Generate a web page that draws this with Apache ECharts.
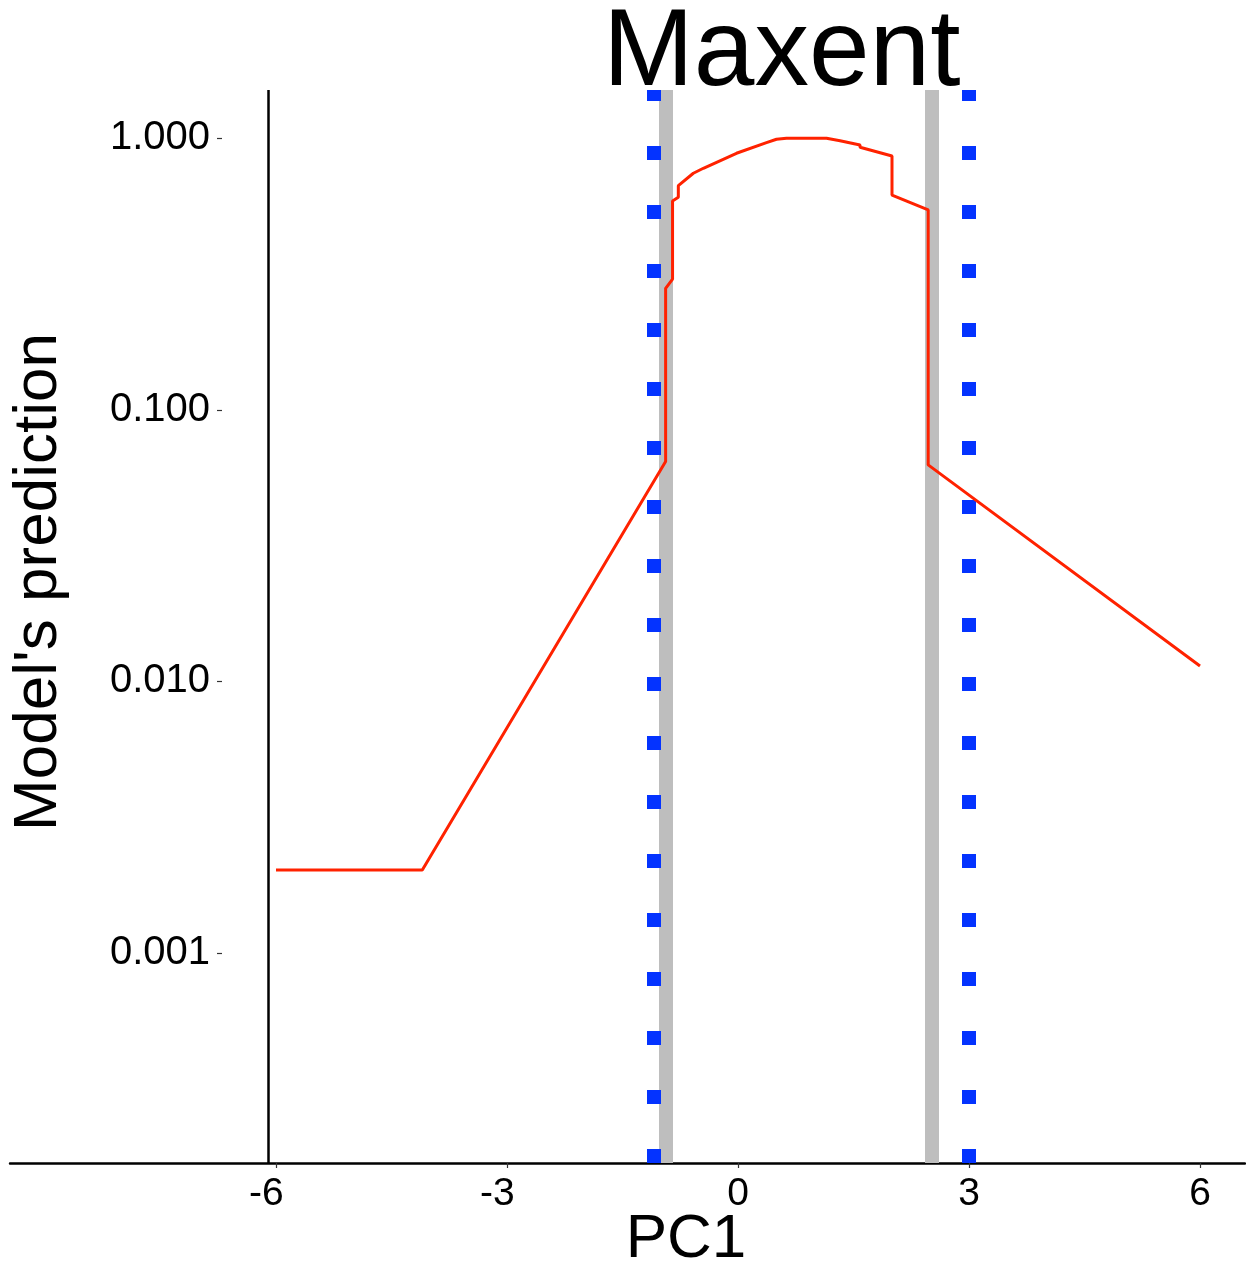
<!DOCTYPE html>
<html>
<head>
<meta charset="utf-8">
<script src="https://cdn.jsdelivr.net/npm/echarts@6/dist/echarts.min.js"></script>
<style>
  html, body { margin: 0; padding: 0; background: #fff; }
  #chart { width: 1246px; height: 1268px; }
</style>
</head>
<body>
<div id="chart"></div>
<script>
// ---- data ----
const pc1 = [-6, -4.1, -0.94, -0.94, -0.85, -0.85, -0.775, -0.775, -0.58, -0.45, -0.02, 0.37, 0.50, 0.63, 1.15, 1.325, 1.585, 1.585, 2.0, 2.0, 2.47, 2.47, 6];
const prediction = [0.00202, 0.00202, 0.0645, 0.2803, 0.3032, 0.5876, 0.6064, 0.6689, 0.7433, 0.7755, 0.8806, 0.9634, 0.9916, 1.0, 1.0, 0.9799, 0.9448, 0.9267, 0.8606, 0.6182, 0.5445, 0.0627, 0.0114];
const greyLines = [-0.94, 2.51];
const blueLines = [-1.09, 3.0];
const yAxisLineAt = [-6.1];
const xTicks = [-6, -3, 0, 3, 6];
const yTicks = [0.001, 0.01, 0.1, 1];
const titleText = 'Maxent';
const xName = 'PC1';
const yName = "Model's prediction";

const FONT = 'Liberation Sans, Arial, Helvetica, sans-serif';
const chart = echarts.init(document.getElementById('chart'), null, { renderer: 'canvas' });

function vLines(values, lineStyle, z) {
  return {
    type: 'line', data: [], z: z, silent: true,
    markLine: {
      z: z, silent: true, symbol: ['none', 'none'], label: { show: false },
      animation: false,
      lineStyle: lineStyle,
      emphasis: { disabled: true },
      data: values.map(v => ({ xAxis: v }))
    }
  };
}

chart.setOption({
  animation: false,
  backgroundColor: '#ffffff',
  title: {
    text: titleText, left: 598, top: -5,
    textStyle: { fontFamily: FONT, fontSize: 109, fontWeight: 'normal', color: '#000' }
  },
  grid: { left: 10, right: 1, top: 90, bottom: 105, outerBoundsMode: 'none', containLabel: false },
  xAxis: {
    type: 'value', min: -9.4545, max: 6.5844,
    axisLine: { onZero: false, lineStyle: { color: '#000', width: 2.5 } },
    axisTick: { customValues: xTicks, length: 5, lineStyle: { color: '#333', width: 1.2 } },
    axisLabel: { customValues: xTicks, margin: 12, fontFamily: FONT, fontSize: 39, color: '#000',
      formatter: v => (v < 0 ? v + '\u2002' : String(v)) },
    splitLine: { show: false }
  },
  yAxis: {
    type: 'log', logBase: 10, min: 1.685e-4, max: 1.506, offset: -212,
    axisLine: { show: false, onZero: false },
    axisTick: { customValues: yTicks, length: 5, lineStyle: { color: '#333', width: 1.2 } },
    axisLabel: { customValues: yTicks, margin: 12, fontFamily: FONT, fontSize: 40, color: '#000',
      formatter: v => Number(v).toFixed(3) },
    splitLine: { show: false }, minorTick: { show: false }
  },
  graphic: [
    { type: 'text', x: 686, y: 1240, silent: true,
      style: { text: xName, font: '62px ' + FONT, fill: '#000', align: 'center', verticalAlign: 'middle' } },
    { type: 'text', x: 39, y: 582, rotation: Math.PI / 2, silent: true,
      style: { text: yName, font: '62px ' + FONT, fill: '#000', align: 'center', verticalAlign: 'middle' } }
  ],
  series: [
    vLines(greyLines, { color: '#bebebe', width: 14, type: 'solid' }, 1),
    vLines(blueLines, { color: '#0433ff', width: 14, type: [14, 45], cap: 'butt' }, 2),
    vLines(yAxisLineAt, { color: '#000', width: 2.5, type: 'solid' }, 3),
    {
      type: 'line', z: 10, symbol: 'none', silent: true,
      data: pc1.map((x, i) => [x, prediction[i]]),
      lineStyle: { color: '#ff2200', width: 3 }
    }
  ]
});
</script>
</body>
</html>
